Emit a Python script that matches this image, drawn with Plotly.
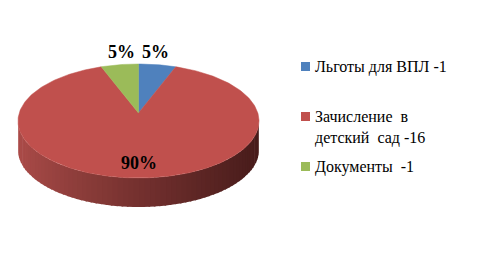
import math
import plotly.graph_objects as go

categories = ["Льготы для ВПЛ -1", "Зачисление\u00a0 в<br>детский\u00a0 сад -16", "Документы\u00a0 -1"]
counts = [1, 16, 1]
shares = [5, 90, 5]
pct_labels = ["5%", "90%", "5%"]
colors = ["#4F81BD", "#C0504D", "#9BBB59"]

W, H = 491, 280
cx, cy, rx, ry, depth = 138.5, 121.0, 120.5, 57.0, 29.0
ax_, ay_ = 138.5, 113.0   # apex of the slices (perspective)
FONT = "Times New Roman, Liberation Serif, serif"

def pt(theta_deg, dy=0.0, kx=1.0, ky=1.0):
    t = math.radians(theta_deg)
    return cx + kx * rx * math.sin(t), cy - ky * ry * math.cos(t) + dy

fig = go.Figure()

# side wall (front half, 90..270 deg), gradient strips
total = sum(shares)
N = 70
c_left = (172, 76, 73)
c_right = (72, 28, 27)
for i in range(N):
    a0 = 90 + 180 * i / N - 0.4
    a1 = 90 + 180 * (i + 1) / N + 0.4
    p0, p1 = pt(a0), pt(a1)
    q0, q1 = pt(a0, depth), pt(a1, depth)
    xm = (p0[0] + p1[0]) / 2
    f = (xm - (cx - rx)) / (2 * rx)
    f = min(max(f, 0), 1) ** 0.85
    col = tuple(int(c_left[j] + (c_right[j] - c_left[j]) * f) for j in range(3))
    fig.add_trace(go.Scatter(
        x=[p0[0], p1[0], q1[0], q0[0], p0[0]],
        y=[p0[1], p1[1], q1[1], q0[1], p0[1]],
        fill="toself", fillcolor="rgb(%d,%d,%d)" % col,
        line=dict(width=0), mode="lines", hoverinfo="skip", showlegend=False))

# top face slices
start = 0.0
mids = []
for s, c in zip(shares, colors):
    span = 360.0 * s / total
    n = max(4, int(span))
    xs, ys = [ax_], [ay_]
    for j in range(n + 1):
        x, y = pt(start + span * j / n)
        xs.append(x); ys.append(y)
    xs.append(ax_); ys.append(ay_)
    fig.add_trace(go.Scatter(x=xs, y=ys, fill="toself", fillcolor=c,
                             line=dict(width=0.5, color=c), mode="lines",
                             hoverinfo="skip", showlegend=False))
    mids.append(start + span / 2)
    start += span

# percentage labels
for i, (lab, m) in enumerate(zip(pct_labels, mids)):
    if shares[i] > 50:
        x, y = pt(m, kx=0.74, ky=0.74)
    else:
        x, y = pt(m, kx=0.88, ky=1.225)
    fig.add_annotation(x=x, y=y, text="<b>%s</b>" % lab, showarrow=False,
                       font=dict(family=FONT, size=18, color="#000000"),
                       xanchor="center", yanchor="middle")

# legend
leg_y = [67, 127, 167]
for lab, c, y in zip(categories, colors, leg_y):
    n_lines = lab.count("<br>") + 1
    top_y = y - (n_lines - 1) * 10
    fig.add_shape(type="rect", x0=301, x1=310, y0=top_y - 5, y1=top_y + 4,
                  fillcolor=c, line=dict(width=0))
    fig.add_annotation(x=313, y=y, text=lab, showarrow=False, align="left",
                       xanchor="left", yanchor="middle",
                       font=dict(family=FONT, size=16, color="#000000"))

fig.update_xaxes(range=[0, W], visible=False, fixedrange=True)
fig.update_yaxes(range=[H, 0], visible=False, fixedrange=True)
fig.update_layout(width=W, height=H, margin=dict(l=0, r=0, t=0, b=0),
                  paper_bgcolor="white", plot_bgcolor="white", showlegend=False)
fig.write_html("out.html")
